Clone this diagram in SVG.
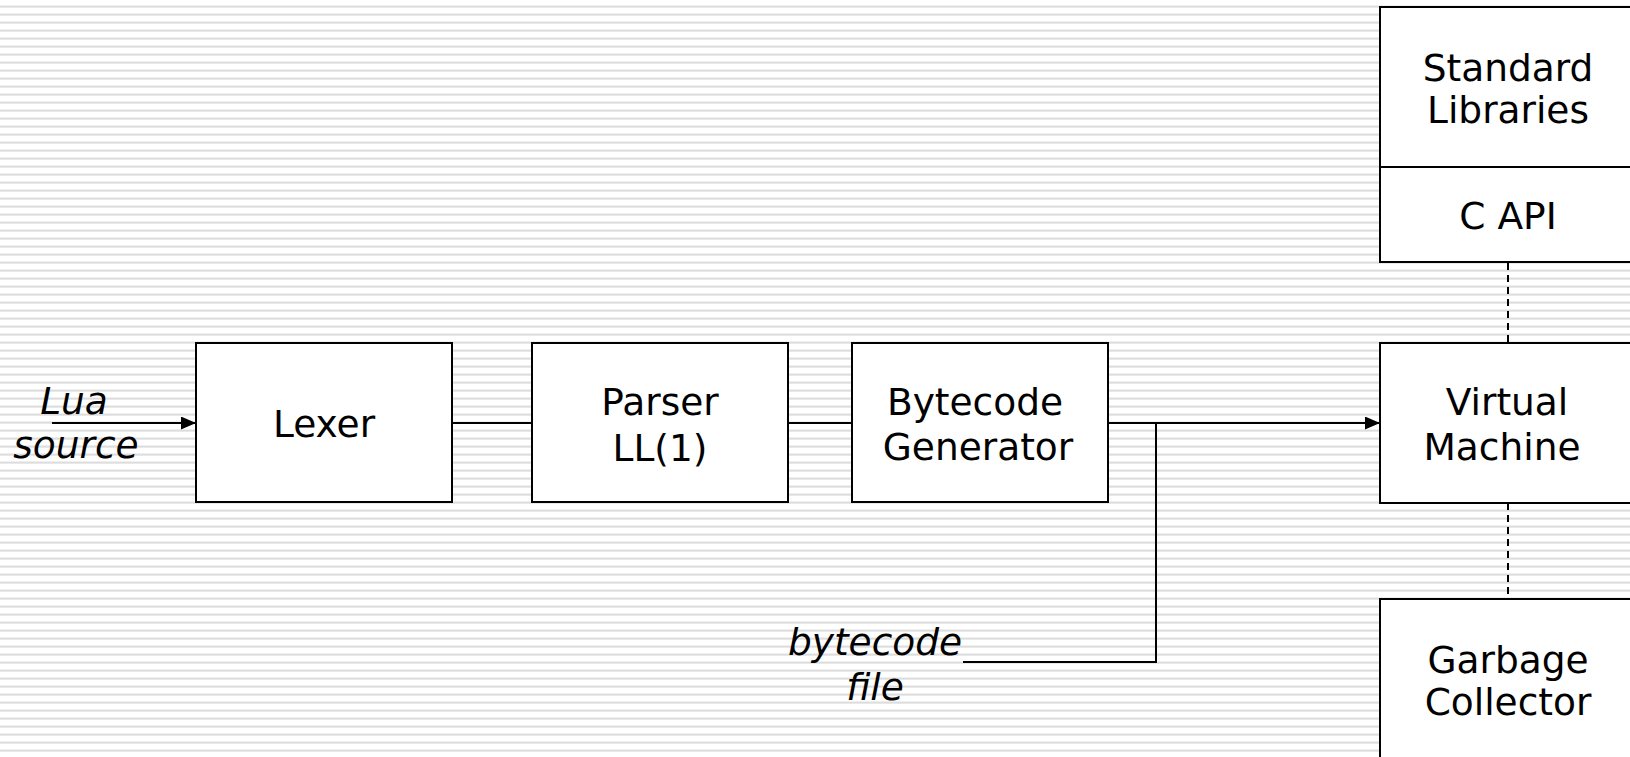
<svg xmlns="http://www.w3.org/2000/svg" width="1630" height="757" viewBox="0 0 1630 757">
<defs>
<pattern id="stripes" x="0" y="0" width="8" height="8" patternUnits="userSpaceOnUse">
<rect x="0" y="0" width="8" height="8" fill="#ffffff"/>
<rect x="0" y="5" width="8" height="1" fill="#efefef"/>
<rect x="0" y="6" width="8" height="1" fill="#dddddd"/>
<rect x="0" y="7" width="8" height="1" fill="#e8e8e8"/>
</pattern>
<marker id="arrow" markerWidth="15" markerHeight="13" refX="15" refY="6.5" orient="auto" markerUnits="userSpaceOnUse">
<path d="M0,0 L15,6.5 L0,13 Z" fill="#000"/>
</marker>
<style>
.box{fill:#fff;stroke:#000;stroke-width:2}
.lbl{font-family:"DejaVu Sans","Liberation Sans",sans-serif;font-size:37.5px;fill:#000;text-anchor:middle}
.it{font-style:italic}
.line{fill:none;stroke:#000;stroke-width:2}
.dash{fill:none;stroke:#000;stroke-width:2;stroke-dasharray:7,5}
</style>
</defs>
<rect x="0" y="0" width="1630" height="757" fill="url(#stripes)"/>

<g id="connectors">
<line class="line" x1="52" y1="423" x2="196" y2="423" marker-end="url(#arrow)"/>
<line class="line" x1="452" y1="423" x2="532" y2="423"/>
<line class="line" x1="788" y1="423" x2="852" y2="423"/>
<line class="line" x1="1108" y1="423" x2="1380" y2="423" marker-end="url(#arrow)"/>
<polyline class="line" points="1156,423 1156,662 963,662"/>
<line class="dash" x1="1508" y1="263" x2="1508" y2="342"/>
<line class="dash" x1="1508" y1="503" x2="1508" y2="598"/>
</g>

<g id="lua-source">
<text class="lbl it" x="74" y="414">Lua</text>
<text class="lbl it" x="76" y="458">source</text>
</g>

<g id="lexer">
<rect class="box" x="196" y="343" width="256" height="159"/>
<text class="lbl" x="324" y="437">Lexer</text>
</g>

<g id="parser">
<rect class="box" x="532" y="343" width="256" height="159"/>
<text class="lbl" x="660" y="415">Parser</text>
<text class="lbl" x="660" y="461">LL(1)</text>
</g>

<g id="bytecode-generator">
<rect class="box" x="852" y="343" width="256" height="159"/>
<text class="lbl" x="975" y="415">Bytecode</text>
<text class="lbl" x="978" y="460">Generator</text>
</g>

<g id="bytecode-file">
<text class="lbl it" x="875" y="655">bytecode</text>
<text class="lbl it" x="875" y="700">file</text>
</g>

<g id="virtual-machine">
<rect class="box" x="1380" y="343" width="256" height="160"/>
<text class="lbl" x="1507" y="415">Virtual</text>
<text class="lbl" x="1502" y="460">Machine</text>
</g>

<g id="standard-libraries">
<rect class="box" x="1380" y="7" width="256" height="160"/>
<text class="lbl" x="1508" y="81">Standard</text>
<text class="lbl" x="1508" y="123">Libraries</text>
</g>

<g id="c-api">
<rect class="box" x="1380" y="167" width="256" height="95"/>
<text class="lbl" x="1508" y="229">C API</text>
</g>

<g id="garbage-collector">
<rect class="box" x="1380" y="599" width="256" height="170"/>
<text class="lbl" x="1508" y="673">Garbage</text>
<text class="lbl" x="1508" y="715">Collector</text>
</g>
</svg>
